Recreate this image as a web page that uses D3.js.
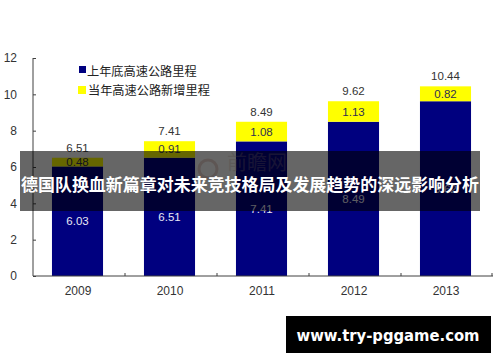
<!DOCTYPE html>
<html><head><meta charset="utf-8">
<script src="https://cdn.jsdelivr.net/npm/d3@7"></script>
<style>body{margin:0;background:#fff}svg{display:block}</style>
</head><body>
<svg id="c" width="500" height="362"></svg>
<script>
const years = ["2009","2010","2011","2012","2013"];
const baseValues = [6.03, 6.51, 7.41, 8.49, 9.62];
const newValues = [0.48, 0.91, 1.08, 1.13, 0.82];
const totalLabels = ["6.51","7.41","8.49","9.62","10.44"];
const yTicks = [0,2,4,6,8,10,12];
const seriesNames = ["上年底高速公路里程","当年高速公路新增里程"];
const title = "德国队换血新篇章对未来竞技格局及发展趋势的深远影响分析";
const site = "www.try-pggame.com";

const svg = d3.select("#c");
const font = "'Liberation Sans', Arial, sans-serif";
const cjk = "'Noto Sans CJK SC', sans-serif";
const x = d3.scaleBand().domain(years).range([33, 493]).paddingInner(0.445).paddingOuter(0.2225);
const y = d3.scaleLinear().domain([0, 12]).range([276, 58]);
const navy = "#00007f", yellow = "#ffff00", axisC = "#404040";

// bars
const g = svg.append("g");
years.forEach((yr, i) => {
  const bx = x(yr) - 1.5, bw = x.bandwidth();
  g.append("rect").attr("x", bx).attr("y", y(baseValues[i])).attr("width", bw)
    .attr("height", y(0) - y(baseValues[i])).attr("fill", navy);
  g.append("rect").attr("x", bx).attr("y", y(baseValues[i] + newValues[i])).attr("width", bw)
    .attr("height", y(baseValues[i]) - y(baseValues[i] + newValues[i])).attr("fill", yellow);
  const cx = bx + bw / 2;
  g.append("text").attr("x", cx).attr("y", (y(0) + y(baseValues[i])) / 2 + 4)
    .attr("text-anchor", "middle").attr("fill", "#e8e8f4").attr("font-family", font).attr("font-size", 11.5)
    .text(baseValues[i].toFixed(2));
  g.append("text").attr("x", cx).attr("y", (y(baseValues[i]) + y(baseValues[i] + newValues[i])) / 2 + 4)
    .attr("text-anchor", "middle").attr("fill", "#303050").attr("font-family", font).attr("font-size", 11.5)
    .text(newValues[i].toFixed(2));
  g.append("text").attr("x", cx).attr("y", y(baseValues[i] + newValues[i]) - 6)
    .attr("text-anchor", "middle").attr("fill", "#333").attr("font-family", font).attr("font-size", 11.5)
    .text(totalLabels[i]);
});

// y axis
const ya = svg.append("g").attr("transform", "translate(33,0)")
  .call(d3.axisRight(y).tickValues(yTicks).tickSize(3).tickFormat(d3.format("d")));
ya.select(".domain").attr("stroke", axisC).attr("d", `M0,${y(12)}V${y(0)}`);
ya.selectAll(".tick line").attr("stroke", axisC);
ya.selectAll(".tick text").attr("x", -16).attr("text-anchor", "end").attr("fill", "#333")
  .attr("font-family", font).attr("font-size", 12);

// x axis
const xa = svg.append("g").attr("transform", `translate(0,${y(0)})`);
xa.append("line").attr("x1", 33).attr("x2", 493).attr("stroke", axisC);
const bounds = years.map((d, i) => 33 + i * 92).concat([492]);
xa.selectAll("line.t").data(bounds.slice(1)).enter().append("line")
  .attr("x1", d => d).attr("x2", d => d).attr("y1", 0).attr("y2", -3).attr("stroke", axisC);
xa.selectAll("text").data(years).enter().append("text")
  .attr("x", d => x(d) + x.bandwidth() / 2 - 1).attr("y", 19)
  .attr("text-anchor", "middle").attr("fill", "#333").attr("font-family", font)
  .attr("font-size", 12).text(d => d);

// legend
const lg = svg.append("g");
lg.append("rect").attr("x", 79).attr("y", 66).attr("width", 7).attr("height", 7).attr("fill", navy);
lg.append("text").attr("x", 87).attr("y", 76).attr("font-family", cjk).attr("font-size", 12.2)
  .attr("fill", "#222").text(seriesNames[0]);
lg.append("rect").attr("x", 78).attr("y", 86).attr("width", 8).attr("height", 8).attr("fill", yellow);
lg.append("text").attr("x", 88).attr("y", 95).attr("font-family", cjk).attr("font-size", 12.2)
  .attr("fill", "#222").text(seriesNames[1]);

// watermark
const wm = svg.append("g").attr("opacity", 0.3);
wm.append("circle").attr("cx", 208).attr("cy", 169).attr("r", 9).attr("fill", "none")
  .attr("stroke", "#c08070").attr("stroke-width", 3);
wm.append("text").attr("x", 227).attr("y", 170).attr("font-family", cjk).attr("font-size", 20)
  .attr("fill", "#c0a8a0").text("前瞻网");

// banner
svg.append("rect").attr("x", 20).attr("y", 151).attr("width", 460).attr("height", 60)
  .attr("fill", "rgba(0,0,0,0.6)");
svg.append("text").attr("x", 250).attr("y", 191).attr("text-anchor", "middle")
  .attr("font-family", cjk).attr("font-weight", "bold").attr("font-size", 17).attr("fill", "#fff")
  .attr("textLength", 458).attr("lengthAdjust", "spacingAndGlyphs").text(title);

// site box
svg.append("rect").attr("x", 286).attr("y", 316).attr("width", 205).attr("height", 37).attr("fill", "#000");
svg.append("text").attr("x", 388).attr("y", 341).attr("text-anchor", "middle")
  .attr("font-family", "'DejaVu Sans', sans-serif").attr("font-weight", "bold").attr("font-size", 16)
  .attr("fill", "#fff").attr("textLength", 183).attr("lengthAdjust", "spacingAndGlyphs").text(site);
</script>
</body></html>
